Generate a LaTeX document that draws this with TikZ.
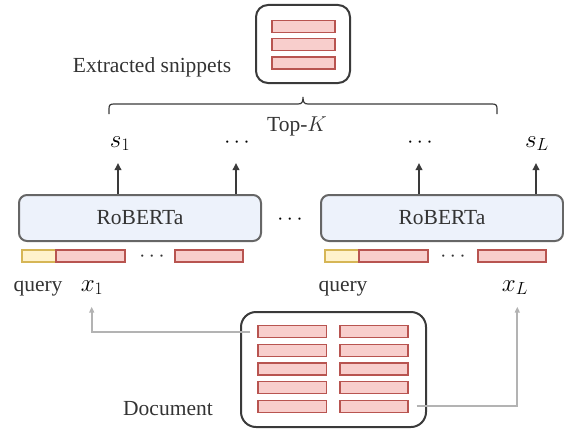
\RequirePackage{fix-cm}
\documentclass[tikz,border=0pt]{standalone}
\usepackage{fontspec}
\setmainfont{Liberation Serif}
\usetikzlibrary{arrows.meta,calc}
\definecolor{txt}{HTML}{333333}
\definecolor{boxc}{HTML}{3A3A3A}
\definecolor{robd}{HTML}{666666}
\definecolor{robf}{HTML}{EDF2FB}
\definecolor{redf}{HTML}{F8CECC}
\definecolor{redd}{HTML}{B85450}
\definecolor{yelf}{HTML}{FFF2CC}
\definecolor{yeld}{HTML}{D6B656}
\definecolor{garr}{HTML}{B3B3B3}
\tikzset{
  bigbox/.style={draw=boxc, line width=2pt, rounded corners=12pt, inner sep=0pt},
  robbox/.style={draw=robd, fill=robf, line width=2pt, rounded corners=8pt, minimum width=242pt, minimum height=46pt, inner sep=0pt},
  redbar/.style={draw=redd, fill=redf, line width=1.4pt, minimum height=12pt, inner sep=0pt},
  qbar/.style={draw=yeld, fill=yelf, line width=1.4pt, minimum height=12pt, minimum width=34pt, inner sep=0pt},
  lbl/.style={anchor=base, inner sep=0pt},
  mlbl/.style={anchor=base, inner sep=0pt, text=black, font=\fontsize{25}{28}\selectfont},
  darrow/.style={draw=boxc, line width=1.8pt, -{Triangle[length=7pt,width=6.5pt]}},
  garrow/.style={draw=garr, line width=1.8pt, -{Triangle[length=6pt,width=5pt]}},
}
\begin{document}
\begin{tikzpicture}[x=1pt,y=-1pt, font=\fontsize{21.5}{24}\selectfont, text=txt]
\useasboundingbox (0,0) rectangle (564,428);
% top snippets box
\node[bigbox, minimum width=94pt, minimum height=78pt] (snip) at (303,44) {};
\node[redbar, minimum width=63pt] (sb1) at (303.5,26.5) {};
\node[redbar, minimum width=63pt] (sb2) at (303.5,44.7) {};
\node[redbar, minimum width=63pt] (sb3) at (303.5,63) {};
\node[lbl] (extr) at (152,72) {Extracted snippets};
% brace
\draw[boxc, line width=1.2pt]
  (109,114) -- (109,109) .. controls (109,105) and (110,104) .. (114,104)
  -- (298,104) .. controls (302,104) and (303,102) .. (303,97)
  .. controls (303,102) and (304,104) .. (308,104)
  -- (492,104) .. controls (496,104) and (497,105) .. (497,109) -- (497,114);
\node[lbl] (topk) at (297,131) {Top-$K$};
% outputs
\node[mlbl] (s1) at (120,147) {$s_1$};
\node[lbl, text=black] (dt1) at (237,147) {$\cdots$};
\node[lbl, text=black] (dt2) at (420,147) {$\cdots$};
\node[mlbl] (sL) at (537,147) {$s_L$};
\coordinate (a1) at (118,163);
\coordinate (a2) at (236,163);
\coordinate (a3) at (419,163);
\coordinate (a4) at (536,163);
% RoBERTa boxes
\node[robbox] (rob1) at (140,218) {RoBERTa};
\node[robbox] (rob2) at (442,218) {RoBERTa};
\node[lbl, text=black] (mdots) at (290,224) {$\cdots$};
\draw[darrow] (rob1.north -| a1) -- (a1);
\draw[darrow] (rob1.north -| a2) -- (a2);
\draw[darrow] (rob2.north -| a3) -- (a3);
\draw[darrow] (rob2.north -| a4) -- (a4);
% token rows
\node[qbar] (q1) at (39,256) {};
\node[redbar, minimum width=69pt] (t1a) at (90.5,256) {};
\node[lbl] (td1) at (152,261) {$\cdots$};
\node[redbar, minimum width=68pt] (t1b) at (209,256) {};
\node[qbar] (q2) at (342,256) {};
\node[redbar, minimum width=69pt] (t2a) at (393.5,256) {};
\node[lbl] (td2) at (453,261) {$\cdots$};
\node[redbar, minimum width=68pt] (t2b) at (512,256) {};
% labels
\node[lbl] (ql1) at (38,291) {query};
\node[mlbl] (x1) at (92,291) {$x_1$};
\node[lbl] (ql2) at (343,291) {query};
\node[mlbl] (xL) at (515,291) {$x_L$};
% document
\node[bigbox, rounded corners=15pt, minimum width=185pt, minimum height=115pt] (doc) at (333.5,369.5) {};
\foreach \r/\y in {1/331.7,2/350.3,3/369,4/387.5,5/406.3}{
  \node[redbar, minimum width=68.7pt] (d\r1) at (292.3,\y) {};
  \node[redbar, minimum width=68pt] (d\r2) at (374,\y) {};
}
\node[lbl] (doclbl) at (168,415) {Document};
\coordinate (g1) at (91.7,306.7);
\coordinate (g2) at (517.3,306.7);
\draw[garrow, shorten <=7pt] (d11.west) -| (g1);
\draw[garrow, shorten <=8pt] (d52.east) -| (g2);
\end{tikzpicture}
\end{document}
